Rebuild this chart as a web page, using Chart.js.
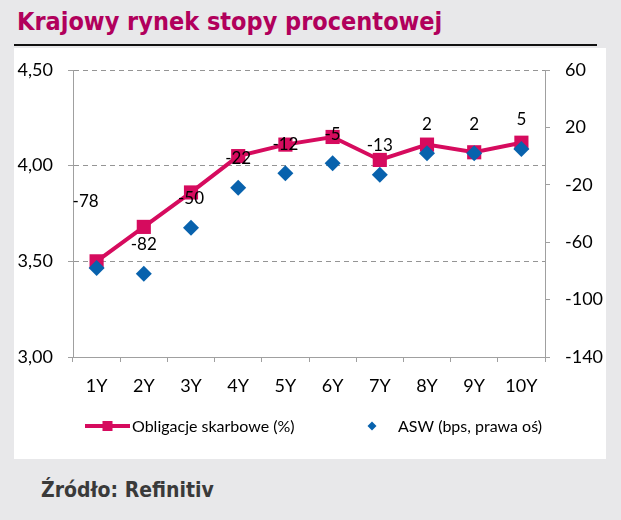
<!DOCTYPE html>
<html>
<head>
<meta charset="utf-8">
<script src="https://cdn.jsdelivr.net/npm/chart.js@4.4.1/dist/chart.umd.min.js"></script>
<style>
html,body{margin:0;padding:0;width:621px;height:520px;background:#e8e8ea;overflow:hidden;position:relative}
#title{position:absolute;left:17px;top:9px;font-family:"DejaVu Sans Condensed","DejaVu Sans",sans-serif;font-stretch:condensed;font-weight:bold;font-size:25px;line-height:25px;color:#b1005c;white-space:nowrap}
#rule{position:absolute;left:14px;top:44px;width:583px;height:2px;background:#111}
#panel{position:absolute;left:14px;top:48px;width:592px;height:411px;background:#fff}
#panel canvas{position:absolute;left:0;top:0}
#src{position:absolute;left:41px;top:480px;font-family:"DejaVu Sans Condensed","DejaVu Sans",sans-serif;font-stretch:condensed;font-weight:bold;font-size:21px;line-height:21px;color:#3a3a3a;white-space:nowrap}
</style>
</head>
<body>
<div id="title">Krajowy rynek stopy procentowej</div>
<div id="rule"></div>
<div id="panel"><canvas id="c" width="592" height="411"></canvas></div>
<div id="src">Źródło: Refinitiv</div>
<script>
// ---- data ----
const categories = ['1Y','2Y','3Y','4Y','5Y','6Y','7Y','8Y','9Y','10Y'];
const bondYields = [3.50, 3.68, 3.86, 4.05, 4.11, 4.15, 4.03, 4.11, 4.07, 4.12];
const aswSpread = [-78, -82, -50, -22, -12, -5, -13, 2, 2, 5];
const leftTicks = [3.00, 3.50, 4.00, 4.50];
const rightTicks = [-140, -100, -60, -20, 20, 60];
const seriesNames = ['Obligacje skarbowe (%)', 'ASW (bps, prawa oś)'];

// ---- style ----
const PINK = '#d60b5e';
const BLUE = '#0862ad';
const AXIS = '#a0a0a0';
const FONT = 'Lato, "Open Sans", sans-serif';
const labelShift = {0: [-11, -67]};
const defaultShift = [0, -29];

const aswLabels = {
  id: 'aswLabels',
  afterDatasetsDraw(chart) {
    const meta = chart.getDatasetMeta(1);
    const ctx = chart.ctx;
    ctx.save();
    ctx.font = '17px ' + FONT;
    ctx.fillStyle = '#000';
    ctx.textAlign = 'center';
    ctx.textBaseline = 'middle';
    meta.data.forEach((pt, i) => {
      const sh = labelShift[i] || defaultShift;
      ctx.fillText(String(aswSpread[i]), pt.x + sh[0], pt.y + sh[1]);
    });
    ctx.restore();
  }
};

const customLegend = {
  id: 'customLegend',
  afterDraw(chart) {
    const ctx = chart.ctx;
    const y = 378;
    ctx.save();
    ctx.strokeStyle = PINK; ctx.lineWidth = 4;
    ctx.beginPath(); ctx.moveTo(71, y); ctx.lineTo(116, y); ctx.stroke();
    ctx.fillStyle = PINK; ctx.fillRect(93.5 - 5, y - 5, 10, 10);
    ctx.font = '16px ' + FONT; ctx.fillStyle = '#000';
    ctx.textAlign = 'left'; ctx.textBaseline = 'middle';
    ctx.fillText(chart.data.datasets[0].label, 118, y + 1);
    ctx.fillStyle = BLUE;
    ctx.beginPath();
    ctx.moveTo(358 - 4.5, y); ctx.lineTo(358, y - 4.5); ctx.lineTo(358 + 4.5, y); ctx.lineTo(358, y + 4.5);
    ctx.closePath(); ctx.fill();
    ctx.fillStyle = '#000';
    ctx.fillText(chart.data.datasets[1].label, 384, y + 1);
    ctx.restore();
  }
};

new Chart(document.getElementById('c'), {
  type: 'line',
  data: {
    labels: categories,
    datasets: [
      {
        label: seriesNames[0], data: bondYields, yAxisID: 'yL',
        borderColor: PINK, backgroundColor: PINK, borderWidth: 4,
        pointStyle: 'rect', pointRadius: 10, pointBorderWidth: 0,
        pointBackgroundColor: PINK, tension: 0, order: 2
      },
      {
        label: seriesNames[1], data: aswSpread, yAxisID: 'yR',
        showLine: false, borderColor: BLUE, backgroundColor: BLUE,
        pointStyle: 'rectRot', pointRadius: 8, pointBorderWidth: 0,
        pointBackgroundColor: BLUE, order: 1
      }
    ]
  },
  options: {
    responsive: false,
    animation: false,
    layout: { padding: { top: 22, left: 0, right: 0, bottom: 0 } },
    plugins: { legend: { display: false }, tooltip: { enabled: false } },
    scales: {
      x: {
        offset: true,
        grid: { offset: true, drawOnChartArea: false, drawTicks: true, tickLength: 5, color: AXIS, tickColor: AXIS },
        border: { color: AXIS, width: 1 },
        ticks: { color: '#000', font: { family: FONT, size: 18 }, padding: 13, maxRotation: 0, autoSkip: false },
        afterFit: s => { s.height = 102; s.paddingLeft = 0; s.paddingRight = 0; }
      },
      yL: {
        position: 'left', min: 3, max: 4.5,
        afterBuildTicks: s => { s.ticks = leftTicks.map(v => ({ value: v })); },
        grid: { color: '#959595', lineWidth: 1, tickLength: 5, tickColor: AXIS, drawTicks: true },
        border: { color: AXIS, width: 1, dash: [5, 4] },
        ticks: { color: '#000', font: { family: FONT, size: 18 }, padding: 15,
          callback: v => Number(v).toFixed(2).replace('.', ',') },
        afterFit: s => { s.width = 59; s.paddingTop = 0; s.paddingBottom = 0; }
      },
      yR: {
        position: 'right', min: -140, max: 60,
        afterBuildTicks: s => { s.ticks = rightTicks.map(v => ({ value: v })); },
        grid: { drawOnChartArea: false, tickLength: 5, color: AXIS, tickColor: AXIS },
        border: { color: AXIS, width: 1 },
        ticks: { color: '#000', font: { family: FONT, size: 18 }, padding: 15, callback: v => String(v) },
        afterFit: s => { s.width = 61; s.paddingTop = 0; s.paddingBottom = 0; }
      }
    }
  },
  plugins: [aswLabels, customLegend]
});
</script>
</body>
</html>
